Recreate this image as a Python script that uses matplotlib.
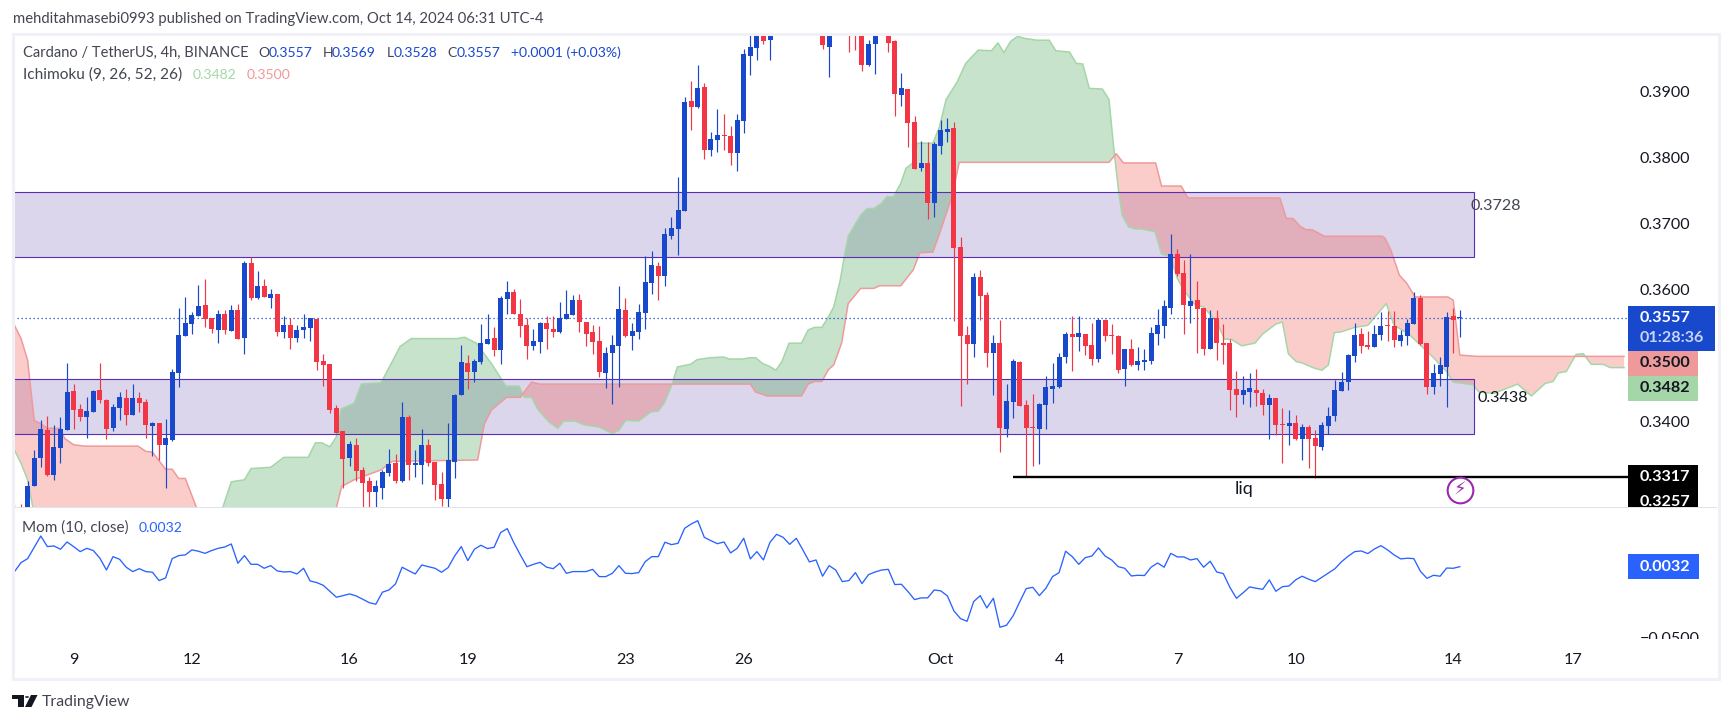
import numpy as np
import matplotlib
matplotlib.use("Agg")
import matplotlib.pyplot as plt
from matplotlib.patches import Rectangle, Polygon, Circle
from matplotlib.transforms import Bbox, TransformedBbox

# ---------- data ----------
opens = [.3241,.3255,.3256,.3302,.3345,.3387,.3319,.3360,.3387,.3446,
.3419,.3407,.3415,.3448,.3433,.3390,.3421,.3436,.3410,.3436,
.3430,.3393,.3398,.3365,.3372,.3474,.3530,.3548,.3560,.3577,
.3557,.3539,.3563,.3537,.3569,.3527,.3640,.3587,.3605,.3587,
.3593,.3536,.3546,.3527,.3539,.3542,.3555,.3492,.3487,.3421,
.3386,.3345,.3365,.3327,.3310,.3293,.3299,.3322,.3337,.3310,
.3407,.3334,.3334,.3365,.3339,.3305,.3283,.3339,.3440,.3489,
.3475,.3490,.3518,.3527,.3508,.3586,.3596,.3563,.3546,.3515,
.3521,.3549,.3540,.3536,.3555,.3562,.3584,.3551,.3536,.3522,
.3474,.3504,.3515,.3569,.3530,.3536,.3565,.3610,.3636,.3621,
.3681,.3692,.3719,.3886,.3877,.3907,.3812,.3827,.3834,.3833,
.3807,.3856,.3954,.3966,.3995,.3978,.3995,.4012,.4000,.4035,
.4020,.4060,.4030,.4000,.3968,.4010,.3998,.4010,.4005,.3995,
.3941,.3972,.4012,.3995,.3977,.3895,.3904,.3854,.3784,.3792,
.3731,.3818,.3839,.3845,.3665,.3531,.3518,.3619,.3592,.3504,
.3519,.3389,.3430,.3490,.3425,.3392,.3389,.3425,.3449,.3452,
.3498,.3533,.3528,.3533,.3516,.3495,.3554,.3531,.3530,.3480,
.3510,.3486,.3490,.3492,.3533,.3545,.3572,.3654,.3625,.3575,
.3584,.3572,.3510,.3557,.3519,.3519,.3449,.3440,.3445,.3448,
.3443,.3425,.3436,.3396,.3393,.3398,.3374,.3392,.3375,.3362,
.3393,.3409,.3446,.3460,.3499,.3533,.3516,.3513,.3531,.3546,
.3545,.3522,.3530,.3548,.3587,.3519,.3452,.3472,.3483,.3560,.3557]
highs = [.3276,.3275,.3310,.3357,.3402,.3409,.3395,.3407,.3489,.3457,
.3427,.3437,.3448,.3489,.3434,.3427,.3445,.3449,.3457,.3445,
.3434,.3399,.3398,.3404,.3480,.3572,.3589,.3566,.3607,.3616,
.3557,.3569,.3569,.3577,.3578,.3643,.3650,.3628,.3616,.3601,
.3593,.3560,.3557,.3546,.3563,.3557,.3555,.3502,.3487,.3425,
.3386,.3371,.3375,.3331,.3316,.3312,.3327,.3359,.3351,.3430,
.3410,.3357,.3389,.3374,.3339,.3324,.3398,.3442,.3516,.3501,
.3495,.3548,.3563,.3543,.3590,.3613,.3601,.3586,.3557,.3540,
.3551,.3560,.3560,.3581,.3599,.3592,.3593,.3551,.3546,.3545,
.3513,.3531,.3605,.3587,.3549,.3578,.3651,.3658,.3642,.3693,
.3710,.3771,.3892,.3916,.3941,.3913,.3839,.3874,.3866,.3848,
.3866,.3965,.3991,.3996,.4001,.3999,.4030,.4040,.4050,.4060,
.4075,.4065,.4040,.4010,.4005,.4020,.4025,.4020,.4015,.4000,
.3978,.3994,.4020,.4000,.3978,.3928,.3904,.3863,.3825,.3824,
.3824,.3857,.3860,.3854,.3680,.3545,.3625,.3630,.3596,.3531,
.3554,.3457,.3495,.3492,.3433,.3442,.3428,.3469,.3489,.3504,
.3536,.3560,.3560,.3533,.3549,.3557,.3555,.3548,.3531,.3510,
.3525,.3513,.3510,.3543,.3571,.3584,.3684,.3662,.3645,.3654,
.3613,.3572,.3569,.3569,.3548,.3525,.3477,.3469,.3474,.3480,
.3449,.3442,.3436,.3421,.3418,.3410,.3396,.3395,.3387,.3399,
.3422,.3463,.3475,.3502,.3549,.3542,.3537,.3546,.3566,.3568,
.3568,.3539,.3555,.3596,.3592,.3519,.3487,.3498,.3566,.3572,.3569]
lows = [.3235,.3230,.3250,.3302,.3332,.3318,.3312,.3338,.3387,.3389,
.3401,.3375,.3414,.3429,.3374,.3386,.3402,.3395,.3410,.3415,
.3375,.3348,.3342,.3299,.3371,.3452,.3530,.3533,.3560,.3543,
.3534,.3519,.3533,.3537,.3525,.3502,.3584,.3586,.3589,.3572,
.3530,.3527,.3510,.3521,.3527,.3522,.3478,.3454,.3413,.3383,
.3299,.3333,.3310,.3261,.3261,.3261,.3283,.3318,.3307,.3309,
.3312,.3316,.3305,.3333,.3281,.3272,.3261,.3315,.3440,.3449,
.3460,.3487,.3518,.3499,.3487,.3563,.3563,.3528,.3495,.3508,
.3504,.3510,.3528,.3534,.3555,.3562,.3536,.3515,.3502,.3468,
.3451,.3427,.3452,.3528,.3508,.3525,.3540,.3593,.3584,.3606,
.3677,.3653,.3719,.3842,.3875,.3798,.3803,.3809,.3812,.3789,
.3780,.3837,.3925,.3948,.3972,.3948,.3992,.3995,.3995,.4010,
.4010,.4020,.3995,.3965,.3922,.3992,.3990,.3960,.3963,.3931,
.3939,.3927,.3992,.3960,.3863,.3878,.3816,.3783,.3780,.3707,
.3710,.3806,.3824,.3552,.3424,.3457,.3498,.3554,.3483,.3440,
.3354,.3377,.3405,.3424,.3317,.3333,.3336,.3389,.3428,.3451,
.3489,.3477,.3507,.3501,.3486,.3490,.3522,.3502,.3474,.3454,
.3484,.3478,.3478,.3487,.3516,.3527,.3563,.3621,.3533,.3549,
.3504,.3501,.3510,.3493,.3487,.3418,.3407,.3427,.3422,.3424,
.3410,.3374,.3380,.3337,.3365,.3372,.3342,.3330,.3315,.3357,
.3381,.3401,.3446,.3448,.3490,.3504,.3510,.3513,.3524,.3522,
.3513,.3515,.3516,.3548,.3516,.3442,.3442,.3454,.3422,.3504,.3528]
closes = [.3261,.3240,.3302,.3345,.3389,.3319,.3362,.3389,.3445,.3418,
.3407,.3416,.3446,.3433,.3389,.3422,.3437,.3410,.3436,.3428,
.3395,.3398,.3365,.3375,.3475,.3531,.3549,.3562,.3575,.3555,
.3540,.3563,.3539,.3569,.3526,.3640,.3587,.3605,.3589,.3593,
.3536,.3546,.3527,.3539,.3543,.3557,.3490,.3486,.3418,.3383,
.3343,.3366,.3325,.3307,.3293,.3302,.3324,.3336,.3310,.3407,
.3334,.3337,.3365,.3337,.3304,.3283,.3342,.3440,.3490,.3475,
.3492,.3519,.3525,.3508,.3587,.3596,.3563,.3545,.3515,.3522,
.3549,.3540,.3536,.3557,.3563,.3584,.3551,.3533,.3521,.3475,
.3504,.3516,.3571,.3530,.3537,.3566,.3612,.3637,.3621,.3684,
.3693,.3721,.3884,.3877,.3906,.3812,.3828,.3834,.3833,.3807,
.3857,.3957,.3968,.3991,.3977,.3993,.4012,.4000,.4035,.4020,
.4060,.4030,.4005,.3970,.4000,.3998,.4015,.3992,.3990,.3941,
.3972,.3991,.4000,.3974,.3897,.3906,.3853,.3783,.3792,.3731,
.3821,.3842,.3844,.3663,.3530,.3518,.3619,.3590,.3504,.3519,
.3390,.3431,.3492,.3424,.3390,.3390,.3427,.3452,.3454,.3498,
.3533,.3528,.3534,.3515,.3495,.3554,.3530,.3530,.3478,.3510,
.3486,.3492,.3493,.3534,.3546,.3575,.3654,.3624,.3577,.3583,
.3571,.3510,.3557,.3519,.3516,.3448,.3440,.3448,.3451,.3443,
.3425,.3436,.3395,.3395,.3398,.3374,.3392,.3374,.3363,.3395,
.3409,.3448,.3460,.3501,.3531,.3515,.3513,.3533,.3545,.3545,
.3524,.3531,.3549,.3587,.3518,.3452,.3474,.3486,.3558,.3554,.3557]

# Ichimoku leading spans: bar position and price of each visible vertex
span_b_bar = [0,1,2,3,4,5,7,7.6,9,10.7,18.8,20,21,23,24,25,26,27.7,30,33,45,49,49.8,51.7,55.8,57.5,70.5,71.5,72.6,74.9,77,78.7,80,112,112.8,114.6,119.8,120.8,121.8,122.9,123.9,124.7,125.9,126.9,128.8,130.8,131.7,134.9,136.8,137.8,139.8,140.8,142.7,143.8,166.6,167.7,168.8,173.7,174.6,177.6,178.6,192.6,193.6,194.6,195.7,196.6,197.5,199.4,208.2,208.6,209.5,210.8,211.9,213.2,218.2,219,220,222.6,245]
span_b = [.3546,.3526,.3493,.3402,.3397,.3390,.3390,.3375,.3365,.3363,.3363,.3355,.3354,.3328,.3328,.3314,.3314,.3270,.3231,.3221,.3241,.3270,.3302,.3312,.3327,.3340,.3342,.3396,.3418,.3437,.3437,.3460,.3457,.3457,.3445,.3439,.3439,.3457,.3461,.3461,.3479,.3486,.3519,.3579,.3602,.3602,.3606,.3606,.3630,.3656,.3657,.3685,.3741,.3793,.3793,.3806,.3792,.3792,.3757,.3757,.3739,.3739,.3708,.3708,.3696,.3691,.3691,.3681,.3681,.3678,.3660,.3622,.3610,.3589,.3589,.3584,.3501,.3499,.3499]
span_a_bar = [0,1,2,2.8,6,15,29,31.7,33,35,36,39,41,44.7,45.8,46.8,48,49,49.7,51.7,52.8,55.8,58.7,60.4,67.4,68.5,70.3,72.6,74.8,76.8,77.6,78.7,79.7,81.3,82.7,83.6,85.3,86.8,89,91,92,93,95,96.9,98,99,100.1,100.9,102.9,103.9,105.9,107.9,108.8,110.8,112,112.8,113.9,114.9,115.9,116.8,117.9,119.8,120.8,121.8,122.9,123.9,124.7,125.7,126.3,126.9,128.8,129.8,130.8,132,132.8,133.8,134.9,135.7,136.9,137.4,139.8,140.8,141.8,143.5,144.8,146.7,148.7,149.7,150.6,151.6,152.7,153.6,155.6,157.5,158.5,160.6,161.6,162.6,163.6,165.6,166.6,167.3,168.1,168.6,169.6,170.6,171.6,173.6,174.6,176,177,178,179.7,181,183,184.2,185.2,186.8,188.8,190,192,193,193.9,195.1,196,197.9,199,200,200.9,201.9,204,206,208.8,210,212.1,215.9,218,219,222,222.9,225.2,228.8,230.9,233,234.2,235,236.2,237.7,238.8,240,241.8,242.9,245]
span_a = [.3357,.3337,.3312,.3270,.3215,.3200,.3220,.3270,.3309,.3312,.3329,.3331,.3346,.3346,.3368,.3368,.3362,.3377,.3419,.3428,.3457,.3459,.3514,.3526,.3526,.3528,.3519,.3488,.3454,.3454,.3437,.3437,.3418,.3400,.3390,.3401,.3401,.3395,.3392,.3382,.3387,.3402,.3401,.3415,.3416,.3430,.3457,.3483,.3487,.3494,.3497,.3498,.3495,.3495,.3497,.3497,.3488,.3484,.3478,.3491,.3519,.3519,.3539,.3543,.3543,.3559,.3574,.3615,.3650,.3681,.3713,.3723,.3723,.3731,.3741,.3741,.3761,.3784,.3793,.3822,.3822,.3847,.3888,.3915,.3943,.3963,.3962,.3974,.3959,.3976,.3984,.3981,.3978,.3978,.3962,.3960,.3943,.3942,.3905,.3904,.3888,.3817,.3746,.3713,.3695,.3692,.3692,.3688,.3654,.3650,.3617,.3599,.3577,.3574,.3551,.3525,.3525,.3515,.3519,.3533,.3548,.3551,.3503,.3491,.3489,.3481,.3478,.3486,.3535,.3536,.3543,.3546,.3579,.3546,.3534,.3498,.3476,.3460,.3456,.3445,.3443,.3457,.3439,.3458,.3461,.3474,.3476,.3502,.3503,.3487,.3487,.3482,.3482]

momentum = [-.0005,.0063,.0093,.0179,.0264,.0184,.0189,.0164,.0219,.0184,.0146,.0171,.0154,.0096,.0007,.0108,.0088,.0028,-.0005,.0017,-.0005,-.0010,-.0073,-.0053,.0093,.0116,.0121,.0159,.0149,.0133,.0154,.0171,.0181,.0204,.0058,.0116,.0050,.0050,.0020,.0040,.0000,-.0008,-.0005,-.0023,.0020,-.0076,-.0088,-.0109,-.0154,-.0199,-.0187,-.0174,-.0189,-.0214,-.0240,-.0252,-.0161,-.0144,-.0098,.0028,.0002,-.0023,.0045,.0032,.0020,-.0010,.0025,.0113,.0184,.0078,.0164,.0194,.0169,.0179,.0290,.0320,.0214,.0121,.0032,.0050,.0065,.0028,.0017,.0058,-.0018,-.0005,-.0005,-.0005,.0012,-.0043,-.0043,-.0018,.0040,-.0018,-.0020,-.0013,.0070,.0108,.0108,.0217,.0199,.0209,.0322,.0355,.0380,.0254,.0229,.0206,.0219,.0136,.0171,.0247,.0091,.0146,.0083,.0217,.0277,.0254,.0201,.0247,.0159,.0068,.0083,-.0040,.0040,.0007,-.0081,-.0073,-.0013,-.0096,-.0028,
-.0008,.0007,.0012,-.0103,-.0101,-.0156,-.0217,-.0204,-.0204,-.0144,-.0151,-.0189,-.0303,-.0361,-.0381,-.0232,-.0187,-.0280,-.0207,-.0426,-.0411,-.0340,-.0235,-.0134,-.0124,-.0187,-.0131,-.0043,-.0013,.0149,.0108,.0050,.0101,.0113,.0174,.0113,.0083,.0032,.0020,-.0038,-.0033,-.0035,.0028,.0060,.0028,.0133,.0106,.0106,.0083,.0093,.0028,.0073,-.0008,-.0020,-.0124,-.0207,-.0166,-.0121,-.0131,-.0139,-.0068,-.0154,-.0119,-.0114,-.0068,-.0040,-.0063,-.0081,-.0048,-.0015,.0017,.0070,.0111,.0146,.0151,.0131,.0166,.0191,.0159,.0121,.0091,.0096,.0093,-.0003,-.0056,-.0033,-.0040,.0022,.0020,.0032]

price_ticks = [.3400, .3600, .3700, .3800, .3900]
mom_ticks = [-.0500]
day_bars = [9, 27, 51, 69, 93, 111, 141, 159, 177, 195, 219, 237.3]
day_labels = ["9", "12", "16", "19", "23", "26", "Oct", "4", "7", "10", "14", "17"]
zones = [(.3650, .3748), (.3381, .3464)]
zone_end_bar = 222.2
zone_notes = [("0.3728", 221.6, .3727, "#434651"), ("0.3438", 222.7, .3436, "#131722")]
liq_price = .3317
liq_start_bar = 152
last_price, span_a_last, span_b_last, other_level = .3557, .3482, .3500, .3257
mom_last = .0032

# ---------- style ----------
W, H = 1732, 723
BLUE, RED = "#1848CC", "#F23645"
MOMC = "#2962FF"
DARK = "#131722"
plt.rcParams["font.family"] = ["Lato", "DejaVu Sans"]
FS = 10.1
FSAX = 11.6

fig = plt.figure(figsize=(W / 100, H / 100), dpi=100, facecolor="white")

def fx(p): return p / W
def fy(p): return 1 - p / H

def add_axes(l, t, r, b):
    a = fig.add_axes([fx(l), fy(b), (r - l) / W, (b - t) / H])
    a.patch.set_visible(False)
    for s in a.spines.values():
        s.set_visible(False)
    return a

def ftext(x, y, s, color=DARK, size=FS, ha="left", **kw):
    return fig.text(fx(x), fy(y), s, color=color, fontsize=size, ha=ha, va="center", **kw)

def frect(l, t, r, b, **kw):
    rect = Rectangle((fx(l), fy(b)), (r - l) / W, (b - t) / H, transform=fig.transFigure, **kw)
    fig.add_artist(rect)
    return rect

AXL, AXR = 13, 1628
MT, MB = 34, 507
ST, SB = 508, 639
xlim = (-0.228, 245.6)

ax = add_axes(AXL, MT, AXR, MB)
ax.set_xlim(*xlim)
ax.set_ylim(.32708, .39874)

# rectangles, under the cloud
for lo, hi in zones:
    ax.add_patch(Rectangle((xlim[0] - 1, lo), zone_end_bar - xlim[0] + 1, hi - lo,
                           facecolor="#DBD6EC", lw=0, zorder=1))
    ax.add_patch(Rectangle((xlim[0] - 1, lo), zone_end_bar - xlim[0] + 1, hi - lo,
                           facecolor="none", edgecolor="#5A2DB5", lw=.8, zorder=2.1))
for s, xb, yp, col in zone_notes:
    ax.text(xb, yp, s, color=col, fontsize=FSAX, va="center", ha="left", zorder=6, clip_on=False)

# cloud, translucent over the rectangles
grid = np.union1d(span_a_bar, span_b_bar)
a_i = np.interp(grid, span_a_bar, span_a)
b_i = np.interp(grid, span_b_bar, span_b)
ax.fill_between(grid, a_i, b_i, where=a_i >= b_i, interpolate=True, color="#239030", alpha=.25, lw=0, zorder=1.5)
ax.fill_between(grid, a_i, b_i, where=a_i <= b_i, interpolate=True, color="#F3382F", alpha=.25, lw=0, zorder=1.5)
ax.plot(span_a_bar, span_a, color="#A5D6A7", lw=1.1, zorder=1.7)
ax.plot(span_b_bar, span_b, color="#EF9A9A", lw=1.1, zorder=1.7)

# last price line
ax.axhline(last_price, color=BLUE, lw=.9, ls=(0, (1, 2.2)), zorder=2.5)

# candles
o, h, l, c = map(np.array, (opens, highs, lows, closes))
x = np.arange(len(o))
up = c >= o
cols = np.where(up, BLUE, RED)
ax.vlines(x, l, h, colors=cols, lw=.85, zorder=3)
top, bot = np.maximum(o, c), np.minimum(o, c)
ax.bar(x, np.maximum(top - bot, .00012), bottom=bot, width=.76, color=cols, lw=0, zorder=3.1)

# liq line
ax.plot([liq_start_bar, xlim[1]], [liq_price, liq_price], color="black", lw=1.7, zorder=4, solid_capstyle="butt")
ax.text(187.1, .32985, "liq", color=DARK, fontsize=13, ha="center", va="center", zorder=5)

# lightning badge
ax.plot([220], [.32965], marker="o", ms=18.5, mfc="white", mec="#9C27B0", mew=1.5, zorder=5, clip_on=False)
ax.text(220, .32965, "\u26A1", color="#9C27B0", fontsize=13, ha="center", va="center",
        family="DejaVu Sans", zorder=6)

# price axis
ax.set_xticks([])
ax.yaxis.tick_right()
ax.set_yticks(price_ticks)
ax.set_yticklabels([f"{v:.4f}" for v in price_ticks], fontsize=FSAX, color=DARK)
ax.tick_params(axis="y", length=0, pad=8.6)

# momentum pane
axm = add_axes(AXL, ST, AXR, SB)
axm.set_xlim(*xlim)
axm.set_ylim(-.0515, .0476)
axm.plot(np.arange(len(momentum)), momentum, color=MOMC, lw=.95, zorder=2)
axm.yaxis.tick_right()
axm.set_yticks(mom_ticks)
axm.set_yticklabels(["\u22120.0500"], fontsize=FSAX, color=DARK)
axm.tick_params(axis="y", length=0, pad=8.6)
axm.set_xticks(day_bars)
axm.set_xticklabels(day_labels, fontsize=FSAX, color=DARK)
axm.tick_params(axis="x", length=0, pad=10)
pane_clip = TransformedBbox(Bbox([[fx(1628), fy(SB)], [fx(1716), fy(ST)]]), fig.transFigure)
for t in axm.get_yticklabels():
    t.set_clip_on(True)
    t.set_clip_box(pane_clip)

# panel frame
frect(12.5, 33.5, 1719, 678.5, facecolor="none", edgecolor="#F0F0F6", lw=2.2)
frect(14, 507, 1717, 508, facecolor="#E0E3EB", lw=0)

# tags
frect(1628, 306, 1715, 351, facecolor=BLUE, lw=0)
ftext(1640, 318.3, f"{last_price:.4f}", color="white", size=FSAX, fontweight="bold")
ftext(1640, 338.3, "01:28:36", color="#C6D4F6", size=FSAX, fontweight="bold")
frect(1628, 351, 1698, 376, facecolor="#EF9A9A", lw=0)
ftext(1640, 363.3, f"{span_b_last:.4f}", size=FSAX, fontweight="bold")
frect(1628, 376, 1698, 401, facecolor="#A5D6A7", lw=0)
ftext(1640, 388.3, f"{span_a_last:.4f}", size=FSAX, fontweight="bold")
frect(1628, 465, 1698, 507, facecolor="black", lw=0)
ftext(1640, 477.3, f"{liq_price:.4f}", color="white", size=FSAX, fontweight="bold")
tag_clip = TransformedBbox(Bbox([[fx(1628), fy(507)], [fx(1716), fy(465)]]), fig.transFigure)
t = ftext(1640, 501.7, f"{other_level:.4f}", color="white", size=FSAX, fontweight="bold")
t.set_clip_on(True)
t.set_clip_box(tag_clip)
frect(1628, 554, 1699, 579, facecolor=MOMC, lw=0)
ftext(1640, 566.7, f"{mom_last:.4f}", color="white", size=FSAX, fontweight="bold")

# header and legends
ftext(13.4, 19.5, "mehditahmasebi0993 published on TradingView.com, Oct 14, 2024 06:31 UTC-4", color="#434651", size=10.7)
L1, L2 = 53, 75
ftext(23.3, L1, "Cardano / TetherUS, 4h, BINANCE", color="#434651", size=10.5)
for xl, lab, xv, val in [(258, "O", 268.6, opens[-1]), (322.6, "H", 332, highs[-1]),
                         (386.5, "L", 394, lows[-1]), (447.7, "C", 457, closes[-1])]:
    ftext(xl, L1, lab, color="#434651")
    ftext(xv, L1, f"{val:.4f}", color=BLUE)
ftext(511, L1, "+0.0001 (+0.03%)", color=BLUE)
ftext(23.3, L2, "Ichimoku (9, 26, 52, 26)", color="#434651", size=11.1)
ftext(193, L2, f"{span_a_last:.4f}", color="#A5D6A7")
ftext(247, L2, f"{span_b_last:.4f}", color="#EF9A9A")
ftext(22, 528, "Mom (10, close)", color="#434651", size=11)
ftext(138.7, 528, f"{mom_last:.4f}", color=MOMC)

# logo and brand
logo = "#131722"
frect(12, 695, 24, 699, facecolor=logo, lw=0)
frect(18, 695, 24, 707, facecolor=logo, lw=0)
fig.add_artist(Circle((fx(27), fy(697)), 2 / W, transform=fig.transFigure, facecolor=logo, lw=0))
fig.add_artist(Polygon([(fx(31), fy(695)), (fx(37.5), fy(695)), (fx(31.5), fy(707)), (fx(25), fy(707))],
                       closed=True, transform=fig.transFigure, facecolor=logo, lw=0))
ftext(42, 702, "TradingView", color="#434651", size=11.4)

fig.savefig("out.png", dpi=100, facecolor="white")
